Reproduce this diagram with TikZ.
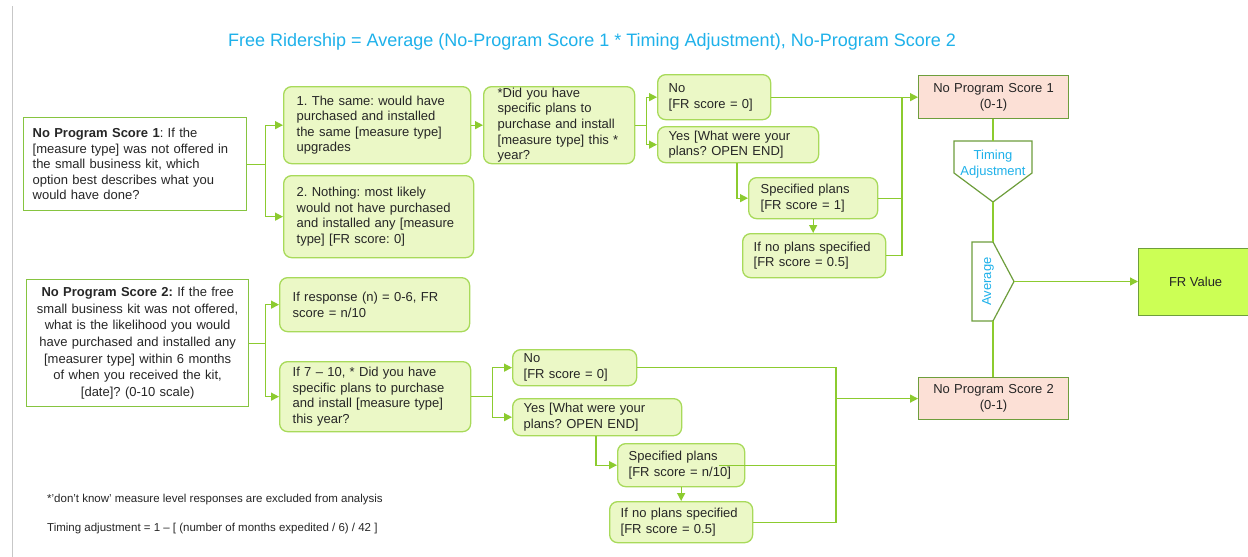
\documentclass[tikz,border=0pt]{standalone}
\usepackage{fontspec}
\setmainfont{Liberation Sans}
\usetikzlibrary{arrows.meta}
\definecolor{gfill}{HTML}{EBF8C6}
\definecolor{gline}{HTML}{A8DA5A}
\definecolor{connc}{HTML}{8CCB2F}
\definecolor{dline}{HTML}{6E9E3C}
\definecolor{peach}{HTML}{FCE0D6}
\definecolor{lime}{HTML}{CCFF55}
\definecolor{cyantxt}{HTML}{1EB1EA}
\definecolor{txt}{HTML}{262626}
\definecolor{qline}{HTML}{86C440}
\frenchspacing
\begin{document}
\begin{tikzpicture}[x=1pt,y=-1pt,
 base/.style={anchor=north west, font=\fontsize{13}{15.6}\selectfont, text=txt, inner ysep=2pt},
 gbox/.style={base, draw=gline, fill=gfill, line width=1.3pt, rounded corners=8pt, align=left},
 qbox/.style={base, draw=qline, fill=white, line width=1.3pt},
 rbox/.style={base, draw=dline, fill=peach, line width=1.2pt, align=center},
 sz/.style n args={3}{text width=#1, inner xsep=#2, minimum height=#3},
 conn/.style={draw=connc, line width=1.3pt},
 arr/.style={conn, -{Triangle[length=8pt,width=8pt]}},
 shapeline/.style={draw=dline, fill=white, line width=1.2pt},
 cyanlabel/.style={font=\fontsize{13}{15.6}\selectfont, text=cyantxt, align=center, inner sep=0pt},
 foot/.style={anchor=west, font=\fontsize{11.5}{14}\selectfont, text=txt, inner sep=0pt}
]
\useasboundingbox (0,0) rectangle (1248,557);
\fill[white] (0,0) rectangle (1248,557);
\draw[draw=black!22, line width=1pt] (12,6) -- (12,557);

\node[font=\fontsize{18}{20}\selectfont, text=cyantxt] (title) at (592,42) {Free Ridership = Average (No-Program Score 1 * Timing Adjustment), No-Program Score 2};

% top half
\node[qbox, align=left, sz={205pt}{9pt}{93pt}] (q1) at (23,117) {\textbf{No Program Score 1}: If the\\{[}measure type] was not offered in\\the small business kit, which\\option best describes what you\\would have done?};
\node[gbox, sz={161pt}{13pt}{77pt}] (same) at (283,86) {1. The same: would have\\purchased and installed\\the same [measure type]\\upgrades};
\node[gbox, sz={164pt}{13pt}{82pt}] (nothing) at (283,175) {2. Nothing: most likely\\would not have purchased\\and installed any [measure\\type] [FR score: 0]};
\node[gbox, sz={123pt}{14pt}{77pt}, inner ysep=0pt] (plans1) at (483,86) {*Did you have\\specific plans to\\purchase and install\\{[}measure type] this *\\year?};
\node[gbox, sz={91pt}{11pt}{45pt}] (no1) at (657,74) {No\\{[}FR score = 0]};
\node[gbox, sz={139pt}{11pt}{36pt}] (yes1) at (657,126) {Yes [What were your\\plans? OPEN END]};
\node[gbox, sz={105pt}{12pt}{41pt}] (spec1) at (748,177) {Specified plans\\{[}FR score = 1]};
\node[gbox, sz={121pt}{11pt}{44pt}] (none1) at (742,233) {If no plans specified\\{[}FR score = 0.5]};
\node[rbox, sz={150pt}{0pt}{43pt}] (nps1) at (918,75) {No Program Score 1\\(0-1)};
\node[base, draw=dline, fill=lime, line width=1.2pt, minimum width=114pt, minimum height=67pt, inner xsep=0pt] (fr) at (1138,248) {FR Value};

% timing adjustment and average shapes
\draw[shapeline] (954,141) -- (1032,141) -- (1032,173) -- (993,202) -- (954,173) -- cycle;
\node[cyanlabel] (ta) at (993,164) {Timing\\Adjustment};
\coordinate (tatop) at (993,141);
\coordinate (tatip) at (993,202);
\draw[shapeline] (972,242) -- (993,242) -- (1014,281.5) -- (993,321) -- (972,321) -- cycle;
\node[cyanlabel, rotate=90] (av) at (988,281.5) {Average};
\coordinate (avtop) at (993,242);
\coordinate (avbot) at (993,321);
\coordinate (avtip) at (1014,281.5);

% bottom half
\node[qbox, align=center, sz={210pt}{6pt}{127pt}, font=\fontsize{13}{16.6}\selectfont] (q2) at (26,279) {\textbf{No Program Score 2:} If the free\\small business kit was not offered,\\what is the likelihood you would\\have purchased and installed any\\{[}measurer type] within 6 months\\of when you received the kit,\\{[}date]? (0-10 scale)};
\node[gbox, sz={164pt}{13pt}{54pt}] (resp) at (279,277) {If response (n) = 0-6, FR\\score = n/10};
\node[gbox, sz={165pt}{13pt}{70pt}] (seven) at (279,361) {If 7 – 10, * Did you have\\specific plans to purchase\\and install [measure type]\\this year?};
\node[gbox, sz={102pt}{11pt}{36pt}] (no2) at (512,349) {No\\{[}FR score = 0]};
\node[gbox, sz={147pt}{11pt}{37pt}] (yes2) at (512,398) {Yes [What were your\\plans? OPEN END]};
\node[gbox, sz={105pt}{11pt}{43pt}] (spec2) at (617,443) {Specified plans\\{[}FR score = n/10]};
\node[gbox, sz={121pt}{11pt}{41pt}] (none2) at (609,501) {If no plans specified\\{[}FR score = 0.5]};
\node[rbox, sz={150pt}{0pt}{42pt}] (nps2) at (918,377) {No Program Score 2\\(0-1)};

% footnotes
\node[foot] (fn1) at (47,500) {*’don’t know’ measure level responses are excluded from analysis};
\node[foot] (fn2) at (47,529) {Timing adjustment = 1 – [ (number of months expedited / 6) / 42 ]};

% connectors, top
\coordinate (b1) at ([xshift=18pt]q1.east);
\draw[conn] (q1.east) -- (b1);
\draw[arr] (b1) |- (same.west);
\draw[arr] (b1) |- (nothing.west);
\draw[arr] (same.east) -- (same.east -| plans1.west);
\coordinate (b2) at ([xshift=11pt]plans1.east);
\draw[conn] (plans1.east) -- (b2);
\draw[arr] (b2) |- (no1.west);
\draw[arr] (b2) |- (yes1.west);
\draw[arr] ([xshift=80pt]yes1.south west) |- (spec1.west);
\draw[arr] (spec1.south) -- (spec1.south |- none1.north);
\coordinate (c1x) at (902,0);
\draw[arr] (no1.east) -- (no1.east -| nps1.west);
\draw[conn] (spec1.east) -| (c1x |- no1.east);
\draw[conn] (none1.east) -| (c1x |- no1.east);

% connectors, right column
\draw[conn] (tatop |- nps1.south) -- (tatop);
\draw[conn] (tatip) -- (avtop);
\draw[conn] (avbot) -- (avbot |- nps2.north);
\draw[arr] (avtip) -- (avtip -| fr.west);

% connectors, bottom
\coordinate (b3) at ([xshift=16pt]q2.east);
\draw[conn] (q2.east) -- (b3);
\draw[arr] (b3) |- (resp.west);
\draw[arr] (b3) |- (seven.west);
\coordinate (b4) at ([xshift=21pt]seven.east);
\draw[conn] (seven.east) -- (b4);
\draw[arr] (b4) |- (no2.west);
\draw[arr] (b4) |- (yes2.west);
\draw[arr] ([xshift=84pt]yes2.south west) |- (spec2.west);
\draw[arr] (spec2.south) -- (spec2.south |- none2.north);
\coordinate (c2x) at (836,0);
\draw[conn] (no2.east) -| (c2x |- none2.east) -- (none2.east);
\draw[conn] ([xshift=-26pt]spec2.east) -- (spec2.east -| c2x);
\draw[arr] (c2x |- nps2.west) -- (nps2.west);
\end{tikzpicture}
\end{document}
